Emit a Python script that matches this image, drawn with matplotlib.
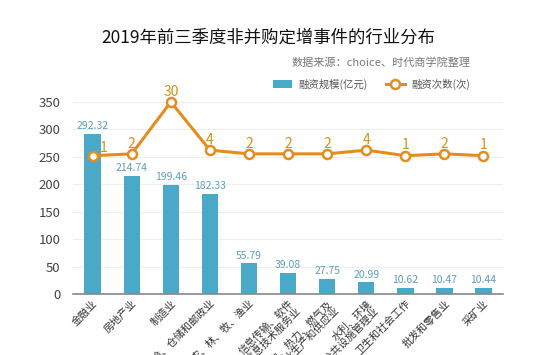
import matplotlib
matplotlib.use("Agg")
import matplotlib.pyplot as plt
from matplotlib.lines import Line2D
from matplotlib.patches import Patch

plt.rcParams['font.family'] = ['Noto Sans CJK SC', 'DejaVu Sans']

industries = ["金融业", "房地产业", "制造业", "交通运输、仓储和邮政业", "农、林、牧、渔业",
              "信息传输、软件\n和信息技术服务业", "电力、热力、燃气及\n水生产和供应业",
              "水利、环境\n和公共设施管理业", "卫生和社会工作", "批发和零售业", "采矿业"]
amount = [292.32, 214.74, 199.46, 182.33, 55.79, 39.08, 27.75, 20.99, 10.62, 10.47, 10.44]
counts = [1, 2, 30, 4, 2, 2, 2, 4, 1, 2, 1]

bar_color = "#4aa8c8"
line_color = "#e58c1f"
label_blue = "#5f9db8"
label_orange = "#d4901e"

fig = plt.figure(figsize=(5.54, 3.55), dpi=100)
ax = fig.add_axes([0.132, 0.172, 0.776, 0.564])
x = list(range(len(industries)))

ax.bar(x, amount, width=0.42, color=bar_color, zorder=2)
for i, v in enumerate(amount):
    ax.text(i, v + 5, f"{v:.2f}", ha="center", va="bottom", fontsize=7.5, color=label_blue)

ax.set_ylim(0, 365)
ax.set_xlim(-0.5, len(industries) - 0.5)
ax.set_yticks(range(0, 351, 50))
ax.grid(axis="y", color="#eeeeee", linewidth=0.8, zorder=0)
for s in ["top", "right", "left"]:
    ax.spines[s].set_visible(False)
ax.spines["bottom"].set_color("#888888")
ax.spines["bottom"].set_linewidth(1.2)
ax.tick_params(axis="y", length=0, labelsize=9.5, labelcolor="#444444", pad=9)
ax.tick_params(axis="x", length=0, pad=3)
ax.set_xticks(x)
ax.set_xticklabels(industries, rotation=45, ha="right", rotation_mode="anchor",
                   fontsize=7.5, color="#333333", linespacing=1.0)

# secondary axis for the count line
ax2 = ax.twinx()
ax2.set_ylim(1 - 252 / 3.38, 1 + (365 - 252) / 3.38)
ax2.axis("off")
ax2.plot(x, counts, color=line_color, linewidth=2.2, marker="o", markersize=6.5,
         markerfacecolor="white", markeredgecolor=line_color, markeredgewidth=1.8,
         zorder=3, clip_on=False)
for i, c in enumerate(counts):
    if i == 0:
        ax2.text(i + 0.28, c + 0.6, str(c), ha="center", va="bottom", fontsize=10, color=label_orange)
    else:
        ax2.text(i, c + 1.8, str(c), ha="center", va="bottom", fontsize=10, color=label_orange)

fig.text(0.485, 0.895, "2019年前三季度非并购定增事件的行业分布", ha="center", va="center",
         fontsize=12.5, color="#111111", fontweight="medium")
fig.text(0.85, 0.823, "数据来源：choice、时代商学院整理", ha="right", va="center",
         fontsize=8, color="#777777")

handles = [Patch(facecolor=bar_color, edgecolor="none"),
           Line2D([0], [0], color=line_color, linewidth=2.2, marker="o", markersize=6.5,
                  markerfacecolor="white", markeredgecolor=line_color, markeredgewidth=1.8)]
fig.legend(handles, ["融资规模(亿元)", "融资次数(次)"], loc="center right",
           bbox_to_anchor=(0.865, 0.763), ncol=2, frameon=False, fontsize=7.5,
           handlelength=1.8, handleheight=0.9, columnspacing=1.8, handletextpad=0.6,
           labelcolor="#555555")

fig.savefig("out.png", dpi=100)
